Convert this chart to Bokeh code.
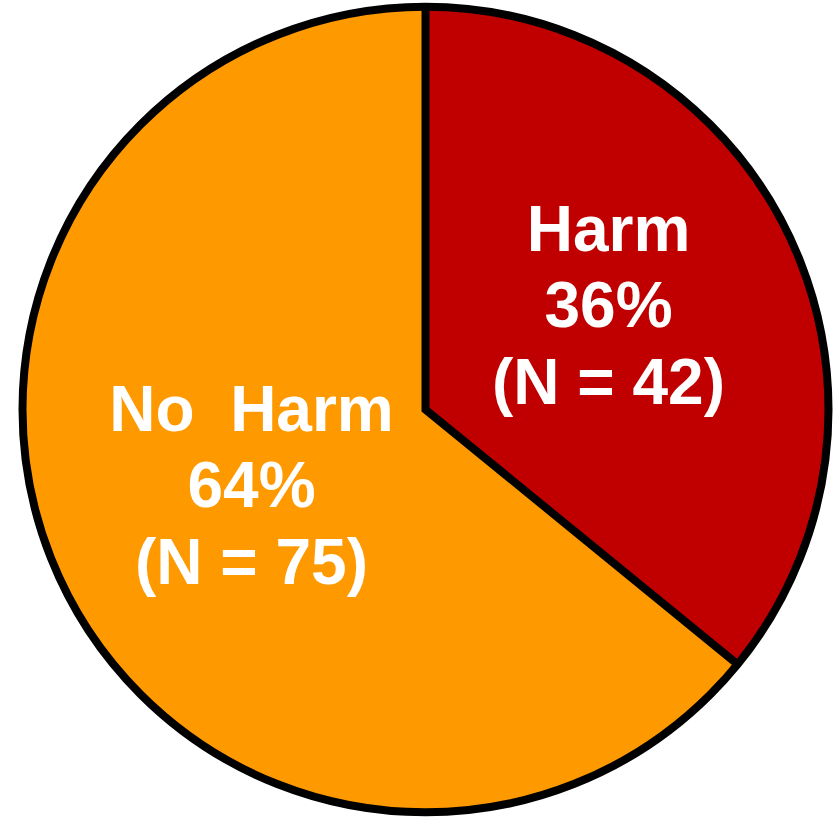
import numpy as np
from bokeh.plotting import figure
from bokeh.models import Range1d, ColumnDataSource
from bokeh.core.properties import value
from bokeh.embed import file_html
from bokeh.resources import INLINE

# ---- data ----
categories = ["Harm", "No\u00a0 Harm"]
counts = [42, 75]
colors = ["#C00000", "#FF9900"]

# ---- layout ----
W, H = 835, 817
cx, cy = 425, H - 409
R = 403
label_x = [608, 251]
label_top_baseline = [228, 408]   # page pixels from top
line_step = 76.5

total = sum(counts)
fracs = np.array(counts, dtype=float) / total
cum = np.concatenate([[0.0], np.cumsum(fracs)])
start = np.pi / 2 - cum[1:] * 2 * np.pi
end = np.pi / 2 - cum[:-1] * 2 * np.pi

p = figure(width=W, height=H, output_backend="svg", toolbar_location=None,
           x_range=Range1d(0, W), y_range=Range1d(0, H), min_border=0)
p.axis.visible = False
p.grid.visible = False
p.outline_line_color = None
p.background_fill_color = "white"
p.border_fill_color = "white"

src = ColumnDataSource(dict(start=start, end=end, color=colors))
p.wedge(x=cx, y=cy, radius=R, start_angle="start", end_angle="end",
        direction="anticlock", fill_color="color", line_color=None, source=src)

# outline
p.circle(x=cx, y=cy, radius=R, fill_color=None, line_color="black", line_width=8)
b0, b1 = end[0], start[0]
p.line(x=[cx + R * np.cos(b0), cx, cx + R * np.cos(b1)],
       y=[cy + R * np.sin(b0), cy, cy + R * np.sin(b1)],
       line_color="black", line_width=8, line_join="miter")

# labels
tx, ty, tt = [], [], []
for i, (cat, n, f) in enumerate(zip(categories, counts, fracs)):
    lines = [cat, f"{round(f * 100)}%", f"(N = {n})"]
    for j, s in enumerate(lines):
        tx.append(label_x[i])
        ty.append(H - (label_top_baseline[i] + j * line_step))
        tt.append(s)
p.text(x=tx, y=ty, text=tt, text_color="white", text_font=value("Liberation Sans"),
       text_font_style="bold", text_font_size="64px", text_align="center",
       text_baseline="alphabetic")

open("out.html", "w").write(file_html(p, INLINE))
